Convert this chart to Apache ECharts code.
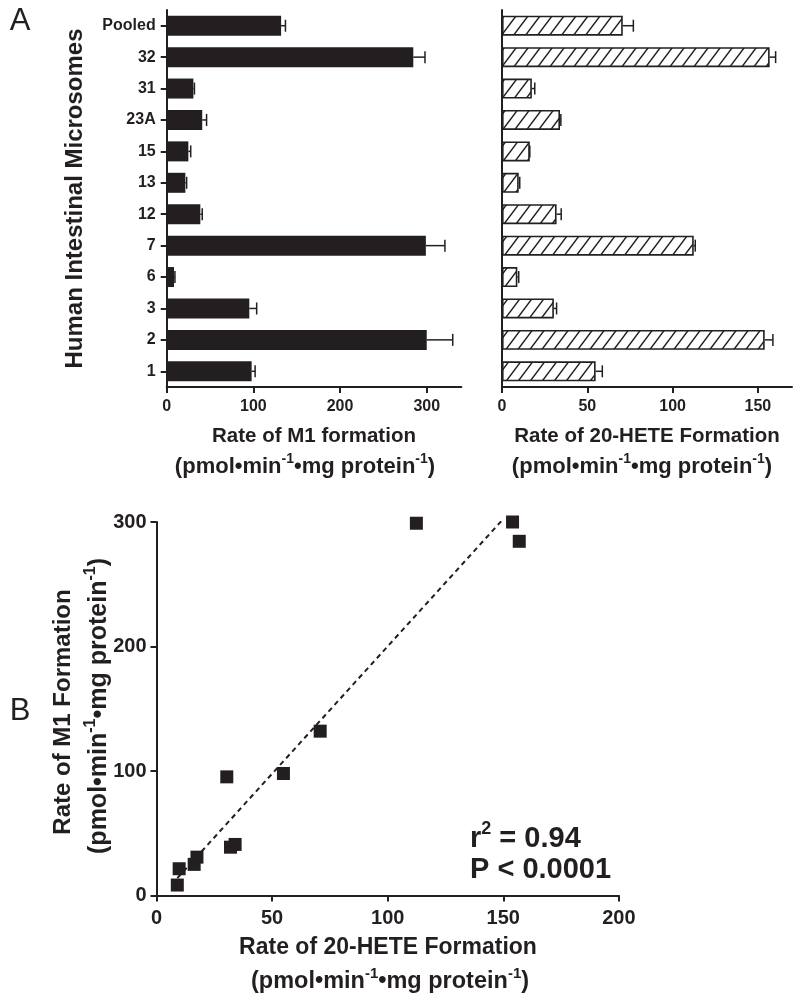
<!DOCTYPE html>
<html><head><meta charset="utf-8">
<script src="https://cdn.jsdelivr.net/npm/echarts@6/dist/echarts.min.js"></script>
<style>html,body{margin:0;padding:0;background:#fff}#c{width:800px;height:1001px}</style>
</head><body><div id="c"></div>
<script>
// ---- data ----
const categories = ['Pooled','32','31','23A','15','13','12','7','6','3','2','1'];
const m1Mean   = [132, 284.5, 30.8, 41, 25, 21.5, 38.8, 299, 8.4, 95.3, 300, 98];
const m1Upper  = [137, 298, 32, 46, 27.7, 23, 41, 321, 9.5, 103.8, 330, 102];
const heteMean = [70.8, 156.9, 17.5, 34, 16.3, 9.8, 32, 112.4, 9, 30.4, 154, 54.9];
const heteUpper= [77, 160.4, 19.2, 34.5, 16.3, 10.4, 34.7, 113.3, 9.8, 32, 158.8, 58.8];
const m1Ticks = [0, 100, 200, 300];
const heteTicks = [0, 50, 100, 150];

const INK = '#231f20';
const FONT = '"Liberation Sans", Arial, Helvetica, sans-serif';

function makeHatch(){
  const c = document.createElement('canvas');
  c.width = 12; c.height = 16;
  const g = c.getContext('2d');
  g.fillStyle = '#fff'; g.fillRect(0,0,12,16);
  g.strokeStyle = INK; g.lineWidth = 1.4;
  g.beginPath();
  [-12,0,12].forEach(ox => { g.moveTo(ox-3, 20); g.lineTo(ox+15, -4); });
  g.stroke();
  return c;
}
const hatch = {image: makeHatch(), repeat: 'repeat'};

// regression (least squares) from the data
const n = heteMean.length;
const mx = heteMean.reduce((a,b)=>a+b,0)/n;
const my = m1Mean.reduce((a,b)=>a+b,0)/n;
let sxy=0, sxx=0;
for (let i=0;i<n;i++){ sxy += (heteMean[i]-mx)*(m1Mean[i]-my); sxx += (heteMean[i]-mx)**2; }
const slope = sxy/sxx, icpt = my - slope*mx;
const xmin = Math.min(...heteMean), xmax = Math.max(...heteMean);
const fitLine = [[xmin, icpt+slope*xmin],[xmax, icpt+slope*xmax]];

function errRender(params, api){
  const y = api.value(1);
  const p0 = api.coord([api.value(0), y]);
  const p1 = api.coord([api.value(2), y]);
  const cap = 6;
  return {type:'group', children:[
    {type:'line', shape:{x1:p0[0],y1:p0[1],x2:p1[0],y2:p1[1]}, style:{stroke:INK,lineWidth:1.5}},
    {type:'line', shape:{x1:p1[0],y1:p1[1]-cap,x2:p1[0],y2:p1[1]+cap}, style:{stroke:INK,lineWidth:1.5}}
  ]};
}

const axLine = {show:true, onZero:false, lineStyle:{color:INK, width:2}};
const axTick = (vals)=>({show:true, length:6, lineStyle:{color:INK, width:2}, customValues: vals});
const lbl = (size, margin, vals)=>({color:INK, fontSize:size, fontWeight:'bold', fontFamily:FONT, margin:margin, customValues: vals});

function unitsRich(size, supSize){
  return {
    m:{fontSize:size, fontWeight:'bold', fontFamily:FONT, fill:INK, lineHeight:size+4, verticalAlign:'bottom'},
    s:{fontSize:supSize, fontWeight:'bold', fontFamily:FONT, fill:INK, lineHeight:supSize, verticalAlign:'top'}
  };
}
const unitsText = '{m|(pmol•min}{s|-1}{m|•mg protein}{s|-1}{m|)}';

function txt(x, y, text, size, opts){
  opts = opts || {};
  return {type:'text', x:x, y:y, rotation:opts.rot||0, z:10,
    style:{text:text, fill:INK, font:(opts.weight||'bold')+' '+size+'px '+FONT,
      textAlign:opts.align||'center', textVerticalAlign:'middle',
      align:opts.align||'center', verticalAlign:'middle', rich:opts.rich}};
}

const chart = echarts.init(document.getElementById('c'), null, {renderer:'canvas'});
chart.setOption({
  animation:false,
  backgroundColor:'#fff',
  grid:[
    {left:166.7, top:10, width:294.7, height:377, outerBoundsMode:'none', containLabel:false},
    {left:502, top:10, width:290, height:377, outerBoundsMode:'none', containLabel:false},
    {left:156.5, top:522, width:462.4, height:373.5, outerBoundsMode:'none', containLabel:false}
  ],
  xAxis:[
    {type:'value', gridIndex:0, min:0, max:340, axisLine:axLine, axisTick:axTick(m1Ticks), axisLabel:lbl(16,12,m1Ticks), splitLine:{show:false}},
    {type:'value', gridIndex:1, min:0, max:170, axisLine:axLine, axisTick:axTick(heteTicks), axisLabel:lbl(16,12,heteTicks), splitLine:{show:false}},
    {type:'value', gridIndex:2, min:0, max:200, interval:50, axisLine:axLine, axisTick:{show:true,length:6,lineStyle:{color:INK,width:2}}, axisLabel:lbl(20,13), splitLine:{show:false}}
  ],
  yAxis:[
    {type:'category', gridIndex:0, data:categories, inverse:true, axisLine:axLine,
      axisTick:{show:true, alignWithLabel:true, length:6, lineStyle:{color:INK,width:2}},
      axisLabel:{color:INK, fontSize:16, fontWeight:'bold', fontFamily:FONT, margin:11}},
    {type:'category', gridIndex:1, data:categories, inverse:true, axisLine:axLine,
      axisTick:{show:false}, axisLabel:{show:false}},
    {type:'value', gridIndex:2, min:0, max:300, interval:100, axisLine:axLine, axisTick:{show:true,length:6,lineStyle:{color:INK,width:2}}, axisLabel:lbl(20,10), splitLine:{show:false}}
  ],
  series:[
    {type:'bar', xAxisIndex:0, yAxisIndex:0, data:m1Mean, barWidth:20, itemStyle:{color:INK}},
    {type:'custom', xAxisIndex:0, yAxisIndex:0, renderItem:errRender, z:5,
      data:categories.map((c,i)=>[m1Mean[i], i, m1Upper[i]]), encode:{x:[0,2], y:1}},
    {type:'bar', xAxisIndex:1, yAxisIndex:1, data:heteMean, barWidth:20,
      itemStyle:{color:hatch, borderColor:INK, borderWidth:1.6}},
    {type:'custom', xAxisIndex:1, yAxisIndex:1, renderItem:errRender, z:5,
      data:categories.map((c,i)=>[heteMean[i], i, heteUpper[i]]), encode:{x:[0,2], y:1}},
    {type:'line', xAxisIndex:2, yAxisIndex:2, data:fitLine, symbol:'none', clip:true,
      lineStyle:{color:INK, width:2, type:[5,4]}},
    {type:'scatter', xAxisIndex:2, yAxisIndex:2, clip:false, symbol:'rect', symbolSize:13,
      itemStyle:{color:INK, opacity:1}, data:heteMean.map((x,i)=>[x, m1Mean[i]]), z:6}
  ],
  graphic:[
    txt(20, 21, 'A', 31, {weight:'normal'}),
    txt(20, 711, 'B', 31, {weight:'normal'}),
    txt(75, 198.5, 'Human Intestinal Microsomes', 24, {rot:Math.PI/2}),
    txt(314, 436, 'Rate of M1 formation', 20.5),
    txt(305, 465, unitsText, 22, {rich:unitsRich(22,14)}),
    txt(647, 436, 'Rate of 20-HETE Formation', 20.5),
    txt(642, 465, unitsText, 22, {rich:unitsRich(22,14)}),
    txt(388, 948, 'Rate of 20-HETE Formation', 23),
    txt(390, 980, unitsText, 23.5, {rich:unitsRich(23.5,15)}),
    txt(63, 712, 'Rate of M1 Formation', 24, {rot:Math.PI/2}),
    txt(97, 706, unitsText, 25, {rot:Math.PI/2, rich:unitsRich(25,16)}),
    txt(470, 837, '{m|r}{s|2}{m| = 0.94}', 29, {align:'left', rich:unitsRich(29,18)}),
    txt(470, 870, 'P < 0.0001', 29, {align:'left'})
  ]
});
</script></body></html>
